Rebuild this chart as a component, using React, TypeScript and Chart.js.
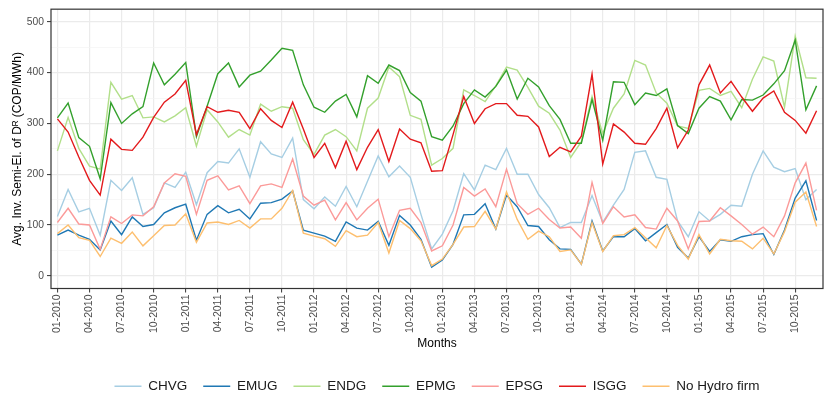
import { useEffect, useRef } from "react";
import { Chart, registerables } from "chart.js";

Chart.register(...registerables);

const years = [2010, 2011, 2012, 2013, 2014, 2015];
const monthLabels: string[] = [];
years.forEach(y => {
  for (let m = 1; m <= 12; m++) {
    monthLabels.push((m < 10 ? '0' + m : '' + m) + '-' + y);
  }
});

const xTicks = [0, 3, 6, 9, 12, 15, 18, 21, 24, 27, 30, 33, 36, 39, 42, 45, 48, 51, 54, 57, 60, 63, 66, 69];
const yTicks = [0, 50, 100, 150, 200, 250, 300, 350, 400, 450, 500];

const chvg = [117, 170, 126, 133, 80, 188, 168, 193, 121, 134, 183, 174, 204, 140, 203, 225, 222, 250, 194, 264, 240, 233, 271, 150,
  132, 155, 137, 176, 136, 186, 236, 195, 216, 194, 121, 53, 82, 128, 201, 169, 218, 209, 251, 200, 200, 160, 134, 95,
  105, 105, 158, 105, 139, 170, 243, 246, 194, 190, 108, 77, 126, 108, 121, 139, 137, 200, 246, 214, 205, 211, 150, 170];
const emug = [80, 90, 80, 72, 51, 108, 81, 116, 97, 101, 124, 134, 141, 70, 121, 138, 124, 131, 112, 143, 144, 151, 167, 90,
  84, 78, 68, 106, 94, 90, 107, 60, 119, 100, 72, 17, 31, 62, 120, 121, 142, 92, 159, 136, 99, 97, 71, 53,
  52, 23, 108, 49, 77, 77, 93, 69, 85, 101, 56, 35, 77, 48, 71, 68, 77, 81, 83, 42, 90, 153, 187, 109];
const endg = [246, 312, 251, 216, 210, 381, 348, 355, 311, 313, 303, 315, 331, 255, 327, 303, 273, 288, 277, 338, 324, 333, 330, 268,
  239, 277, 288, 274, 246, 330, 350, 411, 392, 316, 308, 218, 231, 251, 366, 355, 343, 374, 411, 405, 371, 334, 320, 287,
  233, 264, 353, 280, 330, 358, 424, 415, 360, 340, 295, 290, 365, 369, 355, 363, 331, 387, 431, 423, 332, 472, 390, 389];
const epmg = [311, 340, 272, 255, 191, 341, 300, 319, 333, 419, 376, 397, 420, 274, 334, 398, 419, 372, 395, 403, 425, 448, 444, 376,
  332, 322, 344, 357, 313, 394, 379, 415, 404, 361, 344, 274, 267, 295, 339, 366, 352, 373, 405, 348, 389, 372, 335, 308,
  261, 261, 347, 267, 382, 381, 337, 360, 355, 368, 296, 280, 330, 353, 344, 307, 347, 346, 356, 378, 404, 464, 327, 374];
const epsg = [105, 133, 102, 100, 52, 116, 103, 120, 118, 136, 183, 201, 196, 121, 188, 197, 169, 177, 142, 177, 181, 174, 230, 157,
  139, 149, 110, 144, 110, 133, 151, 77, 129, 133, 105, 49, 59, 100, 174, 157, 171, 136, 210, 142, 121, 133, 111, 94,
  96, 74, 184, 103, 136, 116, 120, 95, 92, 133, 108, 53, 107, 108, 134, 118, 101, 82, 96, 77, 118, 183, 222, 129];
const isgg = [309, 283, 234, 188, 159, 269, 249, 247, 273, 312, 342, 358, 385, 278, 333, 322, 326, 322, 290, 329, 306, 292, 342, 289,
  233, 261, 213, 265, 209, 253, 288, 225, 289, 269, 262, 206, 207, 278, 353, 300, 329, 339, 339, 316, 314, 293, 235, 253,
  244, 275, 397, 220, 299, 283, 261, 259, 290, 330, 252, 287, 376, 415, 360, 383, 352, 324, 350, 364, 322, 306, 281, 325];
const noHydro = [83, 100, 75, 70, 38, 74, 64, 86, 59, 79, 99, 100, 122, 66, 104, 106, 101, 109, 94, 112, 112, 133, 168, 84,
  78, 73, 58, 89, 77, 80, 105, 45, 109, 93, 69, 20, 33, 62, 96, 97, 127, 92, 165, 111, 72, 88, 77, 48,
  51, 23, 105, 48, 79, 81, 95, 75, 55, 99, 60, 33, 81, 43, 72, 69, 68, 53, 74, 43, 87, 145, 165, 97];

const seriesNames = ['CHVG', 'EMUG', 'ENDG', 'EPMG', 'EPSG', 'ISGG', 'No Hydro firm'];
const seriesValues = [chvg, emug, endg, epmg, epsg, isgg, noHydro];
const seriesColors = ['#A6CEE3', '#1F78B4', '#B2DF8A', '#33A02C', '#FB9A99', '#E31A1C', '#FDBF6F'];

const FONT = "'Liberation Sans', Arial, Helvetica, sans-serif";

// ggplot-style box round the panel
const panelBorder = {
  id: 'panelBorder',
  afterDatasetsDraw(chart: any) {
    const { ctx, chartArea: a } = chart;
    ctx.save();
    ctx.strokeStyle = '#333333';
    ctx.lineWidth = 1.2;
    ctx.strokeRect(a.left, a.top, a.right - a.left, a.bottom - a.top);
    ctx.restore();
  }
};

const App = () => {
  const canvasRef = useRef<HTMLCanvasElement | null>(null);

  useEffect(() => {
    if (!canvasRef.current) return;

    const chart = new Chart(canvasRef.current, {
      type: 'line',
      data: {
        datasets: seriesNames.map((name, i) => ({
          label: name,
          data: seriesValues[i].map((v, j) => ({ x: j, y: v })),
          borderColor: seriesColors[i],
          backgroundColor: seriesColors[i],
          borderWidth: 1.4,
          pointRadius: 0,
          fill: false,
          tension: 0,
          order: seriesNames.length - 1 - i
        }))
      },
      options: {
        animation: false,
        responsive: true,
        maintainAspectRatio: false,
        layout: {
          padding: { left: 0, right: 7, top: 6, bottom: 12 }
        },
        plugins: {
          legend: {
            position: 'bottom',
            fullSize: false,
            labels: {
              usePointStyle: true,
              pointStyle: 'line',
              pointStyleWidth: 27,
              padding: 16,
              color: '#1A1A1A',
              font: { family: FONT, size: 13.5 },
              sort: (a: any, b: any) => a.datasetIndex - b.datasetIndex
            }
          },
          tooltip: { enabled: false }
        },
        scales: {
          x: {
            type: 'linear',
            min: -0.6,
            max: 71.6,
            afterBuildTicks: (axis: any) => {
              axis.ticks = xTicks.map(v => ({ value: v }));
            },
            afterFit: (axis: any) => {
              axis.height = 75;
            },
            border: { display: false },
            grid: {
              color: '#EBEBEB',
              lineWidth: 1.2,
              tickLength: 4,
              tickColor: '#333333',
              tickWidth: 1
            },
            ticks: {
              autoSkip: false,
              maxRotation: 90,
              minRotation: 90,
              padding: 2,
              color: '#4D4D4D',
              font: { family: FONT, size: 10.5 },
              callback: (v: any) => monthLabels[v] ?? ''
            },
            title: {
              display: true,
              text: 'Months',
              color: '#000000',
              font: { family: FONT, size: 12 },
              padding: { top: 0, bottom: 13 }
            }
          },
          y: {
            min: -25,
            max: 525,
            afterBuildTicks: (axis: any) => {
              axis.ticks = yTicks.map(v => ({ value: v }));
            },
            afterFit: (axis: any) => {
              axis.width = 51;
            },
            border: { display: false },
            grid: {
              color: (ctx: any) => (ctx.tick && ctx.tick.value % 100 === 0 ? '#EBEBEB' : '#F3F3F3'),
              lineWidth: (ctx: any) => (ctx.tick && ctx.tick.value % 100 === 0 ? 1.2 : 0.7),
              tickLength: 4,
              tickColor: (ctx: any) => (ctx.tick && ctx.tick.value % 100 === 0 ? '#333333' : 'rgba(0,0,0,0)'),
              tickWidth: 1
            },
            ticks: {
              padding: 3,
              color: '#4D4D4D',
              font: { family: FONT, size: 10.3 },
              callback: (v: any) => (v % 100 === 0 ? String(v) : '')
            },
            title: {
              display: true,
              text: 'Avg. Inv. Semi-El. of Dᴿ (COP/MWh)',
              color: '#000000',
              font: { family: FONT, size: 12 },
              padding: { top: 10, bottom: 0 }
            }
          }
        }
      },
      plugins: [panelBorder]
    });

    return () => {
      chart.destroy();
    };
  }, []);

  return (
    <div style={{ position: 'fixed', left: 0, top: 0, width: 830, height: 415, background: '#ffffff' }}>
      <canvas ref={canvasRef}></canvas>
    </div>
  );
};

export default App;
